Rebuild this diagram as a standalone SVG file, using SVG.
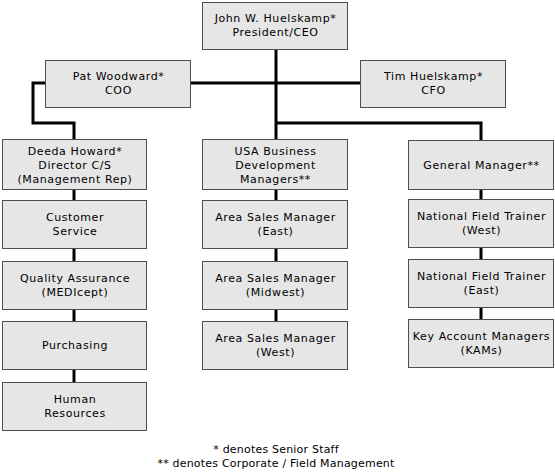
<svg xmlns="http://www.w3.org/2000/svg" width="555" height="475" viewBox="0 0 555 475">
<style>
.box{fill:#e6e6e6;stroke:#4d4d4d;stroke-width:1}
.t{font-family:"DejaVu Sans",Verdana,sans-serif;font-size:11px;letter-spacing:0.6px;fill:#000;text-anchor:middle}
.c{fill:none;stroke:#000;stroke-width:3}
.f{font-family:"DejaVu Sans",Verdana,sans-serif;font-size:11px;letter-spacing:0.2px;fill:#000;text-anchor:middle}
</style>
<rect width="555" height="475" fill="#fff"/>
<g id="connectors">
<path class="c" d="M276 49V200M276 248V261M276 309V321"/>
<path class="c" d="M190.5 83H360"/>
<path class="c" d="M45.5 83H33V123H74V139"/>
<path class="c" d="M276 123H481V140"/>
<path class="c" d="M74 189V200M74 248V261M74 309V321M74 370V382"/>
<path class="c" d="M481 189V199M481 247V259M481 308V319"/>
</g>
<g id="ceo"><rect class="box" x="202.5" y="2.5" width="145" height="47"/><text class="t" x="275.5" y="22">John W. Huelskamp*</text><text class="t" x="275.5" y="36">President/CEO</text></g>
<g id="coo"><rect class="box" x="45.5" y="60.5" width="145" height="47"/><text class="t" x="118.5" y="80">Pat Woodward*</text><text class="t" x="118.5" y="94">COO</text></g>
<g id="cfo"><rect class="box" x="360.5" y="60.5" width="145" height="47"/><text class="t" x="433.5" y="80">Tim Huelskamp*</text><text class="t" x="433.5" y="94">CFO</text></g>
<g id="deeda"><rect class="box" x="2.5" y="139.5" width="144" height="50"/><text class="t" x="75" y="155">Deeda Howard*</text><text class="t" x="75" y="169">Director C/S</text><text class="t" x="75" y="183">(Management Rep)</text></g>
<g id="usa"><rect class="box" x="202.5" y="139.5" width="145" height="50"/><text class="t" x="275.5" y="155">USA Business</text><text class="t" x="275.5" y="169">Development</text><text class="t" x="275.5" y="183">Managers**</text></g>
<g id="gm"><rect class="box" x="408.5" y="140.5" width="145" height="49"/><text class="t" x="481.5" y="169">General Manager**</text></g>
<g id="cs"><rect class="box" x="2.5" y="200.5" width="144" height="48"/><text class="t" x="75" y="221">Customer</text><text class="t" x="75" y="235">Service</text></g>
<g id="qa"><rect class="box" x="2.5" y="261.5" width="144" height="48"/><text class="t" x="75" y="282">Quality Assurance</text><text class="t" x="75" y="296">(MEDIcept)</text></g>
<g id="purch"><rect class="box" x="2.5" y="321.5" width="144" height="48"/><text class="t" x="75" y="349">Purchasing</text></g>
<g id="hr"><rect class="box" x="2.5" y="382.5" width="144" height="48"/><text class="t" x="75" y="403">Human</text><text class="t" x="75" y="417">Resources</text></g>
<g id="asm-east"><rect class="box" x="202.5" y="200.5" width="145" height="48"/><text class="t" x="275.5" y="221">Area Sales Manager</text><text class="t" x="275.5" y="235">(East)</text></g>
<g id="asm-midwest"><rect class="box" x="202.5" y="261.5" width="145" height="48"/><text class="t" x="275.5" y="282">Area Sales Manager</text><text class="t" x="275.5" y="296">(Midwest)</text></g>
<g id="asm-west"><rect class="box" x="202.5" y="321.5" width="145" height="48"/><text class="t" x="275.5" y="342">Area Sales Manager</text><text class="t" x="275.5" y="356">(West)</text></g>
<g id="nft-west"><rect class="box" x="408.5" y="199.5" width="145" height="48"/><text class="t" x="481.5" y="220">National Field Trainer</text><text class="t" x="481.5" y="234">(West)</text></g>
<g id="nft-east"><rect class="box" x="408.5" y="259.5" width="145" height="48"/><text class="t" x="481.5" y="280">National Field Trainer</text><text class="t" x="481.5" y="294">(East)</text></g>
<g id="kam"><rect class="box" x="408.5" y="319.5" width="145" height="48"/><text class="t" x="481.5" y="340">Key Account Managers</text><text class="t" x="481.5" y="354">(KAMs)</text></g>
<g id="legend"><text class="f" x="276" y="453">* denotes Senior Staff</text><text class="f" x="276" y="467">** denotes Corporate / Field Management</text></g>
</svg>
